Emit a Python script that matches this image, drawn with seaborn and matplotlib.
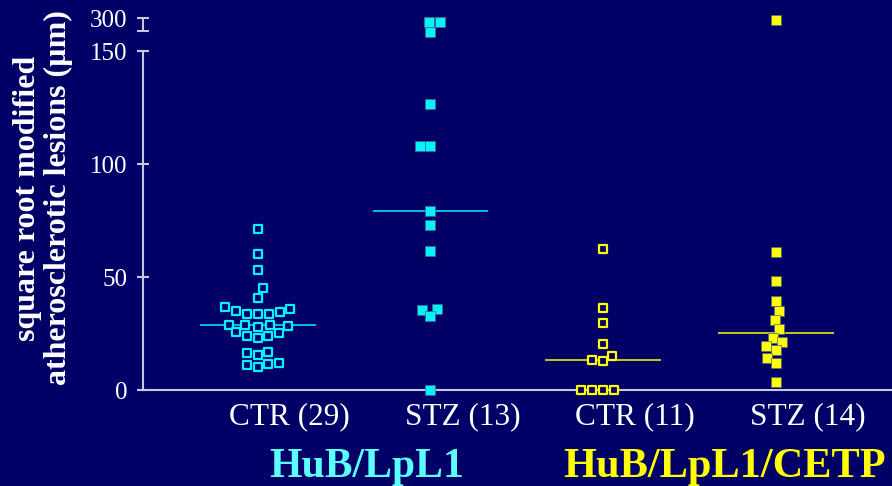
import numpy as np
import pandas as pd
import matplotlib
matplotlib.use("Agg")
import matplotlib.pyplot as plt
import matplotlib.transforms as mtransforms
import seaborn as sns

# ---- data -------------------------------------------------------------
categories = ["CTR (29)", "STZ (13)", "CTR (11)", "STZ (14)"]
ctr_hub = [71.1, 60.0, 53.0, 45.0, 40.9, 36.6, 35.1, 33.8, 33.5, 33.5, 34.4, 35.7,
           28.9, 28.3, 28.0, 28.6, 28.6, 25.5, 24.0, 23.0, 24.0, 25.2,
           16.2, 15.6, 16.8, 11.6, 10.0, 11.2, 11.9]
stz_hub = [282, 283, 237, 126.7, 108.0, 107.8, 79.2, 73.0, 61.5, 35.4, 36.0, 32.7, 0]
ctr_cetp = [62.2, 36.4, 29.5, 20.5, 13.1, 12.7, 15.2, 0, 0, 0, 0]
stz_cetp = [294, 60.9, 48.1, 39.4, 35.1, 31.0, 26.9, 23.2, 21.2, 19.3, 17.8, 14.0, 11.9, 3.7]
group_labels = ["HuB/LpL1", "HuB/LpL1/CETP"]
yticks = [0, 50, 100, 150, 300]
ylabel = "square root modified\natherosclerotic lesions (\u00b5m)"

series = [ctr_hub, stz_hub, ctr_cetp, stz_cetp]
df = pd.DataFrame({
    "group": np.repeat(categories, [len(s) for s in series]),
    "value": np.concatenate(series),
})

# ---- style --------------------------------------------------------------
BG = "#000066"
CYAN = "#00f4ff"
YELLOW = "#ffff00"
AXIS = "#c8c8dc"
colors = [CYAN, CYAN, YELLOW, YELLOW]
hollow = [True, False, True, False]

sns.set_style("dark")
plt.rcParams["font.family"] = ["Liberation Serif", "DejaVu Serif"]

fig = plt.figure(figsize=(8.92, 4.86), dpi=100, facecolor=BG)
ax = fig.add_axes([143 / 892, 96 / 486, 1 - 143 / 892, 390 / 486])
ax.set_facecolor(BG)

# broken y axis: linear up to 150, compressed above
K = 0.0965
BREAK = 150.0


def fwd(v):
    v = np.asarray(v, dtype=float)
    return np.where(v <= BREAK, v, BREAK + (v - BREAK) * K)


def inv(u):
    u = np.asarray(u, dtype=float)
    return np.where(u <= BREAK, u, BREAK + (u - BREAK) / K)


ax.set_yscale("function", functions=(fwd, inv))

for cat, col, open_marker in zip(categories, colors, hollow):
    sub = df[df["group"] == cat]
    if open_marker:
        sns.swarmplot(data=sub, x="group", y="value", order=categories, ax=ax,
                      marker="s", size=6.0, color=BG, edgecolor=col,
                      linewidth=1.6, legend=False, zorder=3)
    else:
        sns.swarmplot(data=sub, x="group", y="value", order=categories, ax=ax,
                      marker="s", size=6.6, color=col, edgecolor="#4a6a80",
                      linewidth=0.5, legend=False, zorder=3)

for coll in ax.collections:
    coll.set_clip_on(False)

# median lines
for i, (vals, col) in enumerate(zip(series, colors)):
    ax.hlines(np.median(vals), i - 0.335, i + 0.335, color=col, lw=1.1, zorder=2)

ax.set_xlim(-0.664, 3.673)
ax.set_ylim(0, 383.9)

# axes styling
for side in ("top", "right"):
    ax.spines[side].set_visible(False)
ax.spines["left"].set_color(AXIS)
ax.spines["left"].set_linewidth(1.5)
ax.spines["left"].set_bounds(0, 150)
ax.spines["bottom"].set_color(AXIS)
ax.spines["bottom"].set_linewidth(1.5)
ax.grid(False)

# upper piece of the broken axis
break_low = 241.7
ax.plot([ax.get_xlim()[0]] * 2, [break_low, 300], color=AXIS, lw=1.5,
        clip_on=False, solid_capstyle="butt")

ax.set_yticks(yticks)
ax.set_yticklabels([str(t) for t in yticks])
ax.set_yticks([break_low], minor=True)
ax.tick_params(axis="y", which="both", left=True, direction="inout", length=8,
               width=1.5, color=AXIS, labelcolor="white", labelsize=18, pad=7)
ax.tick_params(axis="y", which="minor", labelleft=False)
ax.tick_params(axis="x", bottom=False, length=0, labelcolor="white",
               labelsize=22.5, pad=9)
ax.set_xlabel("")
ax.set_ylabel("")

# category labels sit a little right of their columns
shift = mtransforms.ScaledTranslation(32 / 100, 0, fig.dpi_scale_trans)
for lab in ax.get_xticklabels():
    lab.set_transform(lab.get_transform() + shift)

fig.text(43 / 892, 1 - 198 / 486, ylabel, rotation=90, ha="center", va="center",
         color="white", fontsize=23, fontweight="bold", linespacing=1.12,
         multialignment="center")

trans = mtransforms.blended_transform_factory(ax.transData, fig.transFigure)
ax.text(0.63, 9.3 / 486, group_labels[0], transform=trans, ha="center",
        va="baseline", color="#5cffff", fontsize=30, fontweight="bold")
ax.text(2.706, 9.3 / 486, group_labels[1], transform=trans, ha="center",
        va="baseline", color=YELLOW, fontsize=30.5, fontweight="bold")

fig.savefig("out.png", dpi=100, facecolor=BG)
